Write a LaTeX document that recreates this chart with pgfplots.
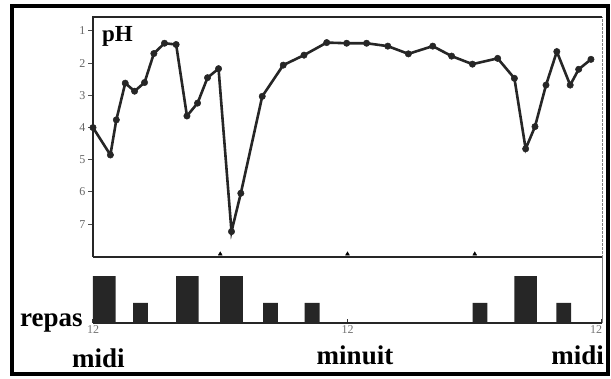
\documentclass[border=0pt]{standalone}
\usepackage{fontspec}
\setmainfont{Liberation Serif}
\usepackage{pgfplots}
\pgfplotsset{compat=1.18}
\pgfplotstableread{
h ph
12.00 4.00
12.82 4.85
13.10 3.76
13.52 2.62
13.96 2.87
14.43 2.60
14.87 1.70
15.37 1.38
15.92 1.42
16.43 3.64
16.93 3.24
17.40 2.45
17.92 2.17
18.53 7.23
18.97 6.04
19.98 3.03
20.97 2.06
21.95 1.75
23.02 1.36
23.96 1.38
24.90 1.38
25.90 1.47
26.87 1.71
28.02 1.47
28.91 1.78
29.89 2.03
31.08 1.85
31.87 2.47
32.40 4.66
32.84 3.97
33.36 2.68
33.87 1.64
34.50 2.68
34.90 2.19
35.48 1.88
}\phdata
\begin{document}
\begin{tikzpicture}[x=1pt,y=1pt]
\path[use as bounding box] (0,0) rectangle (611,379);
\draw[line width=3.5pt] (12,5) rectangle (608,373);
\begin{axis}[
  at={(93pt,122pt)}, anchor=south west, scale only axis,
  width=509pt, height=240pt,
  xmin=12, xmax=36, ymin=0.565, ymax=8.02, y dir=reverse,
  axis line style={draw=none},
  clip=false,
  xtick=\empty,
  ytick={1,2,3,4,5,6,7}, ytick pos=left,
  tick align=outside, major tick length=5pt,
  tick style={black!70, line width=1pt},
  /pgf/number format/assume math mode=true,
  yticklabel style={font=\fontsize{12}{12}\selectfont, text=black!60, xshift=1pt},
]
\draw[gray, line width=0.7pt, dash pattern=on 3pt off 1pt] (rel axis cs:0,0) -- (rel axis cs:1,0) -- (rel axis cs:1,1);
\draw[black!85, line width=1.6pt] (rel axis cs:0,0) -- (rel axis cs:0,1) -- (rel axis cs:1,1);
\addplot[only marks, mark=triangle*, mark size=2.3pt, black] coordinates {(18,7.93) (24,7.93) (30,7.93)};
\addplot[black!85, line width=2.6pt, mark=*, mark size=3.2pt, mark options={fill=black!85, draw=black!85, line width=0.5pt}] table[x=h, y=ph] {\phdata};
\end{axis}
\begin{axis}[
  at={(93pt,56pt)}, anchor=south west, scale only axis,
  width=509pt, height=66pt,
  xmin=12, xmax=36, ymin=0, ymax=1,
  axis line style={draw=none},
  clip=false,
  ytick=\empty,
  xtick={12,24,36}, xticklabels={12,12,\llap{12}}, xtick pos=bottom,
  tick align=inside, major tick length=4pt,
  tick style={black!80, line width=1.2pt},
  /pgf/number format/assume math mode=true,
  xticklabel style={font=\fontsize{12}{12}\selectfont, text=black!55, yshift=1pt},
]
\draw[gray, line width=0.8pt] (rel axis cs:1,0) -- (rel axis cs:1,1);
\addplot[ybar, bar width=1.07, bar shift=0pt, fill=black!85, draw=none] coordinates {(12.53,0.712) (16.45,0.712) (18.53,0.712) (32.4,0.712)};
\addplot[ybar, bar width=0.70, bar shift=0pt, fill=black!85, draw=none] coordinates {(14.24,0.303) (20.37,0.303) (22.33,0.303) (30.25,0.303) (34.2,0.303)};
\draw[black!85, line width=1.8pt] (rel axis cs:0,0) -- (rel axis cs:1,0);
\draw[black!85, line width=1.6pt] (rel axis cs:0,1) -- (rel axis cs:1,1);
\end{axis}
\node[anchor=base west, inner sep=0, font=\fontsize{23}{23}\selectfont\bfseries] at (102,337) {pH};
\node[anchor=base west, inner sep=0, font=\fontsize{27}{27}\selectfont\bfseries] at (20,52) {repas};
\node[anchor=base west, inner sep=0, font=\fontsize{27}{27}\selectfont\bfseries] at (72,11) {midi};
\node[anchor=base, inner sep=0, font=\fontsize{27}{27}\selectfont\bfseries] at (355,14) {minuit};
\node[anchor=base east, inner sep=0, font=\fontsize{27}{27}\selectfont\bfseries] at (604,14) {midi};
\end{tikzpicture}
\end{document}
